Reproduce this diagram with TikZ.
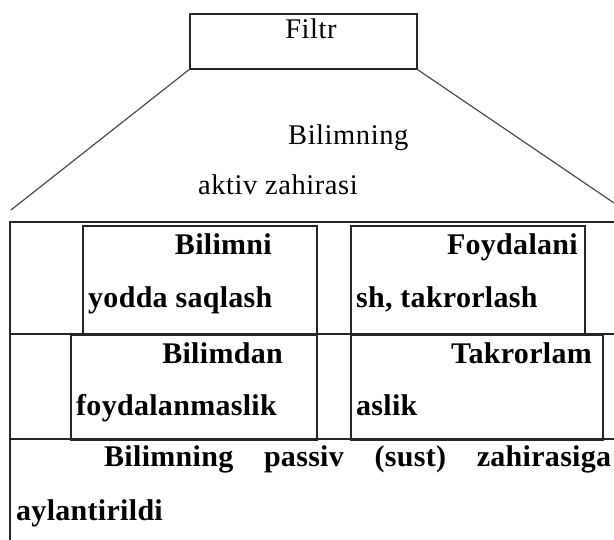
\documentclass[tikz,border=0pt]{standalone}
\usepackage{fontspec}
\setmainfont{Liberation Serif}
\begin{document}
\begin{tikzpicture}[x=1pt,y=-1pt,
  rule/.style={draw=black!85, line width=1.7pt},
  toprule/.style={draw=black!85, line width=2.8pt},
  diag/.style={draw=black!70, line width=1.2pt},
  cell/.style={draw=black!85, line width=1.7pt, inner sep=0pt, anchor=north west},
  reg/.style={font=\fontsize{28.5}{28.5}\selectfont\addfontfeatures{LetterSpace=2}, inner sep=0pt},
  bld/.style={font=\fontsize{30}{30}\selectfont\bfseries\addfontfeatures{LetterSpace=1}, inner sep=0pt}]
\useasboundingbox (0,0) rectangle (614,540);
\fill[white] (0,0) rectangle (614,540);
% filter box and funnel
\node[cell, minimum width=227pt, minimum height=55pt] (filtr) at (189,13) {};
\node[reg, anchor=base] (tfiltr) at (311,39) {Filtr};
\coordinate (fl) at (11,210);
\coordinate (fr) at (617,205);
\draw[diag] (filtr.south west) -- (fl);
\draw[diag] (filtr.south east) -- (fr);
\node[reg, anchor=base west] (ta) at (288,145) {Bilimning};
\node[reg, anchor=base west] (tb) at (198,195) {aktiv zahirasi};
% table frame
\draw[toprule] (9,222) -- (614,222);
\draw[rule] (10,222) -- (10,540);
\draw[rule] (10,334) -- (614,334);
\draw[rule] (10,439) -- (614,439);
% row 1 cells
\node[cell, minimum width=234pt, minimum height=109pt] (c1) at (82,225) {};
\node[cell, minimum width=234pt, minimum height=109pt] (c2) at (350,225) {};
% row 2 cells
\node[cell, minimum width=246pt, minimum height=105pt] (c3) at (70,334) {};
\node[cell, minimum width=252pt, minimum height=105pt] (c4) at (350,334) {};
% row 1 text
\node[bld, anchor=base east] (r1a) at (272,255) {Bilimni};
\node[bld, anchor=base west] (r1b) at (88,308) {yodda saqlash};
\node[bld, anchor=base east] (r1c) at (578,255) {Foydalani};
\node[bld, anchor=base west] (r1d) at (356,308) {sh, takrorlash};
% row 2 text
\node[bld, anchor=base east] (r2a) at (283,364) {Bilimdan};
\node[bld, anchor=base west] (r2b) at (76,416) {foydalanmaslik};
\node[bld, anchor=base east] (r2c) at (592,364) {Takrorlam};
\node[bld, anchor=base west] (r2d) at (356,416) {aslik};
% row 3 text
\node[bld, anchor=base west] (r3a) at (104,466) {\makebox[507pt][s]{Bilimning passiv (sust) zahirasiga}};
\node[bld, anchor=base west] (r3b) at (16,520) {aylantirildi};
\end{tikzpicture}
\end{document}
